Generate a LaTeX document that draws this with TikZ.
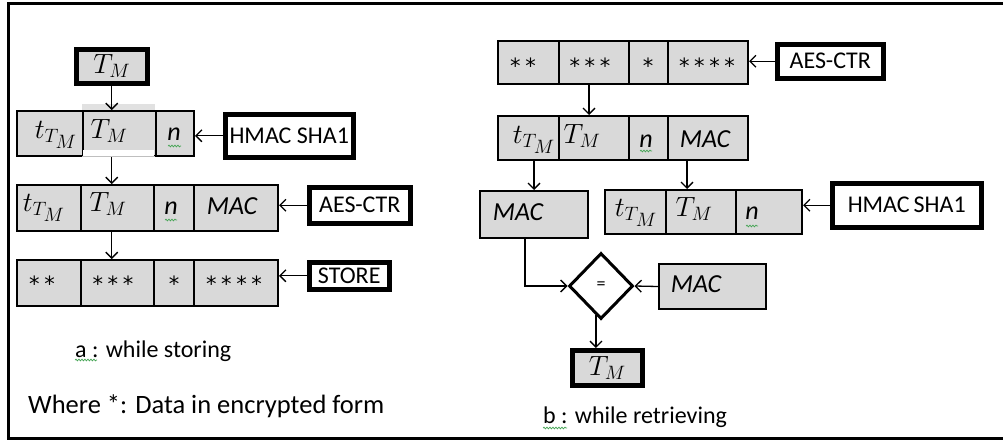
\documentclass[tikz,border=0pt]{standalone}
\usepackage{graphicx}
\usepackage{fontspec}
\setmainfont{Carlito}
\newfontfamily\astfont{DejaVu Sans}[LetterSpace=22]
\usetikzlibrary{arrows.meta,shapes.geometric,decorations.pathmorphing,calc}
\definecolor{cellgray}{RGB}{217,217,217}
\definecolor{sqgreen}{RGB}{70,165,85}
% \mk{style}{name}{x1}{y1}{x2}{y2}{text}: box with top-left (x1,y1), bottom-right (x2,y2)
\newcommand\mk[7]{\node[#1, minimum width={#5-#3}, minimum height={#6-#4}] (#2) at (#3,#4) {#7};}
% slightly enlarged math symbol
\newcommand\bm[1]{\scalebox{1.12}{$#1$}}
\begin{document}
\begin{tikzpicture}[x=1pt,y=-1pt,
  every node/.style={font=\fontsize{24}{28}\selectfont},
  cell/.style={draw, fill=cellgray, line width=2pt, inner sep=0pt, anchor=north west},
  keybox/.style={draw, fill=white, line width=4.5pt, inner sep=0pt, anchor=north west},
  tmbox/.style={draw, fill=cellgray, line width=4.5pt, inner sep=0pt, anchor=north west},
  lbl/.style={anchor=base, inner sep=0pt},
  itl/.style={lbl, font=\fontsize{26}{30}\selectfont\itshape},
  ast/.style={lbl, font=\astfont\fontsize{21}{26}\selectfont},
  arr/.style={line width=1.3pt, -{Straight Barb[length=6pt,width=12pt,line width=1.3pt]}},
  squig/.style={draw=sqgreen, line width=0.7pt, decorate, decoration={snake, amplitude=0.9pt, segment length=3pt}},
]
\useasboundingbox (0,0) rectangle (1003,442);
\fill[white] (0,0) rectangle (1003,442);
% outer frame (open to the right)
\draw[line width=3pt, line join=miter] (1012,3.5) -- (8.5,3.5) -- (8.5,438.5) -- (1012,438.5);

% ---------- a: storing ----------
\mk{tmbox}{ltm}{74}{47}{145}{81}{\bm{T_M}}
\fill[cellgray!80!white] (82,104) rectangle (155,110);
\mk{cell}{l1a}{16}{110}{82}{155}{}
\mk{cell}{l1b}{82}{110}{155}{155}{}
\mk{cell}{l1c}{155}{110}{193}{155}{}
\fill[white] (83,150) rectangle (154,156.5);
\draw[gray!50, line width=0.6pt] (82,156) -- (155,156);
\mk{keybox}{lhmac}{223}{112}{351}{155}{HMAC SHA1}

\mk{cell}{l2a}{16}{184}{80}{230}{}
\mk{cell}{l2b}{80}{184}{153}{230}{}
\mk{cell}{l2c}{153}{184}{193}{230}{}
\mk{cell}{l2d}{193}{184}{277}{230}{}
\mk{keybox}{laes}{307}{185}{408}{221}{AES-CTR}

\mk{cell}{l3a}{16}{259}{80}{305}{}
\mk{cell}{l3b}{80}{259}{153}{305}{}
\mk{cell}{l3c}{153}{259}{193}{305}{}
\mk{cell}{l3d}{193}{259}{277}{305}{}
\mk{keybox}{lstore}{307}{260}{387}{287}{STORE}

\node[lbl] (t1a) at (56,138) {\bm{t_{T_{\scriptstyle M}}}};
\node[lbl] (t1b) at (109,138) {\bm{T_M}};
\node[itl] (t1c) at (174,140) {n};
\node[lbl] (t2a) at (44,211) {\bm{t_{T_{\scriptstyle M}}}};
\node[lbl] (t2b) at (108,211) {\bm{T_M}};
\node[itl] (t2c) at (171,214) {n};
\node[itl] (t2d) at (232,214) {MAC};
\node[ast] (t3a) at (42,291) {**};
\node[ast] (t3b) at (113,291) {***};
\node[ast] (t3c) at (174,291) {*};
\node[ast] (t3d) at (234,291) {****};

\draw[arr] (ltm.south) -- (ltm.south |- l1b.north);
\draw[arr] (ltm.south |- l1b.south) -- (ltm.south |- l2b.north);
\draw[arr] (ltm.south |- l2b.south) -- (ltm.south |- l3b.north);
\draw[arr] (lhmac.west) -- (lhmac.west -| l1c.east);
\draw[arr] (laes.west) -- (laes.west -| l2d.east);
\draw[arr] (lstore.west) -- (lstore.west -| l3d.east);

\node[anchor=base west, inner sep=0pt] (capa) at (75,357) {a : while storing};
\node[anchor=base west, inner sep=0pt, font=\fontsize{26.5}{30}\selectfont] (note) at (28,413) {Where *: Data in encrypted form};

% ---------- b: retrieving ----------
\mk{cell}{r0a}{497}{40}{558}{83}{}
\mk{cell}{r0b}{558}{40}{628}{83}{}
\mk{cell}{r0c}{628}{40}{667}{83}{}
\mk{cell}{r0d}{667}{40}{747}{83}{}
\mk{keybox}{raes}{775}{42}{881}{76}{AES-CTR}

\mk{cell}{r1a}{497}{115}{558}{159}{}
\mk{cell}{r1b}{558}{115}{628}{159}{}
\mk{cell}{r1c}{628}{115}{667}{159}{}
\mk{cell}{r1d}{667}{115}{747}{159}{}

\mk{cell}{rmac}{479}{190}{587}{237}{}
\mk{cell}{r2a}{604}{189}{665}{233}{}
\mk{cell}{r2b}{665}{189}{735}{233}{}
\mk{cell}{r2c}{735}{189}{801}{233}{}
\mk{keybox}{rhmac}{830}{181}{979}{225}{HMAC\,SHA1}

\node[diamond, draw, fill=white, line width=3pt, minimum width=64pt, minimum height=66pt, inner sep=0pt, font=\fontsize{18}{20}\selectfont] (dia) at (601,286) {=};
\mk{cell}{rmac2}{658}{263}{765}{308}{}
\mk{tmbox}{rtm}{570}{348}{640}{383}{\bm{T_M}}

\node[ast] (s0a) at (523,73) {**};
\node[ast] (s0b) at (590,73) {***};
\node[ast] (s0c) at (648,73) {*};
\node[ast] (s0d) at (707,73) {****};
\node[lbl] (s1a) at (534,143) {\bm{t_{T_{\scriptstyle M}}}};
\node[lbl] (s1b) at (582,143) {\bm{T_M}};
\node[itl] (s1c) at (646,147) {n};
\node[itl] (s1d) at (705,147) {MAC};
\node[itl] (smac) at (518,220) {MAC};
\node[lbl] (s2a) at (636,216) {\bm{t_{T_{\scriptstyle M}}}};
\node[lbl] (s2b) at (694,216) {\bm{T_M}};
\node[itl] (s2c) at (752,219) {n};
\node[itl] (smac2) at (696,292) {MAC};

\draw[arr] (raes.west) -- (raes.west -| r0d.east);
\draw[arr] ([xshift=-5pt]r0b.south) -- ([xshift=-5pt]r0b.south |- r1b.north);
\draw[arr] (rmac.north |- r1a.south) -- (rmac.north);
\draw[arr] ([xshift=-14pt]r2b.north |- r1d.south) -- ([xshift=-14pt]r2b.north);
\draw[arr] (rhmac.west) -- (rhmac.west -| r2c.east);
\draw[arr] ([xshift=-9pt]rmac.south) |- (dia.west);
\draw[arr] (rmac2.west) -- (dia.east);
\coordinate (dout) at ($(dia.south)!0.15!(dia.west)$);
\draw[arr] (dout) -- (dout |- rtm.north);

\node[anchor=base west, inner sep=0pt] (capb) at (543,423) {b : while retrieving};

% spelling marks
\draw[squig] (168,146) -- (181,146);
\draw[squig] (165,220) -- (177,220);
\draw[squig] (640,151) -- (652,151);
\draw[squig] (746,226) -- (758,226);
\draw[squig] (75,360) -- (97,360);
\draw[squig] (543,428) -- (567,428);
\end{tikzpicture}
\end{document}
